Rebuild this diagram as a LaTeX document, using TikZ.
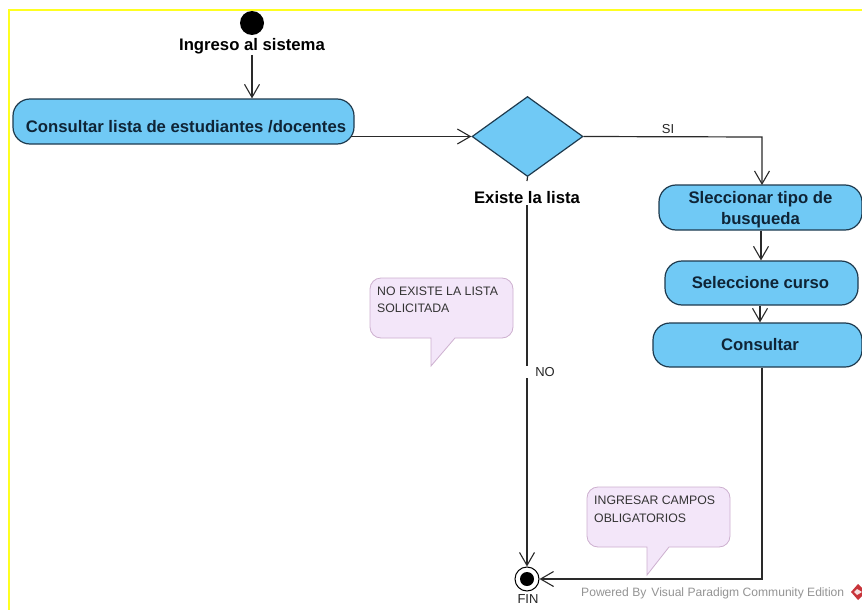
\documentclass[tikz,border=0pt]{standalone}
\usepackage{fontspec}
\setmainfont{Liberation Sans}
\usetikzlibrary{arrows.meta,shapes.geometric}
\definecolor{actfill}{HTML}{70C9F5}
\definecolor{actline}{HTML}{1E3A4E}
\definecolor{acttext}{HTML}{0F2436}
\definecolor{notefill}{HTML}{F3E6F9}
\definecolor{noteline}{HTML}{CDB0CF}
\definecolor{flow}{HTML}{2A2A2A}
\definecolor{frameyellow}{HTML}{FFFF20}
\definecolor{logored}{HTML}{C8343A}
\tikzset{
  act/.style={draw=actline,fill=actfill,line width=1.2pt,rounded corners=17pt,inner sep=0pt,align=center,text=acttext,font=\fontsize{16.7}{21}\selectfont\bfseries},
  decision/.style={diamond,aspect=1.39,draw=actline,fill=actfill,line width=1.2pt,inner sep=0pt,minimum width=111pt,minimum height=80pt},
  caption/.style={inner sep=0pt,text=black,font=\fontsize{16.7}{19}\selectfont\bfseries},
  small/.style={inner sep=0pt,text=black!85,font=\fontsize{13}{14}\selectfont},
  notetext/.style={inner sep=0pt,anchor=north west,align=left,text=black!80,font=\fontsize{12.3}{17.5}\selectfont},
  notebody/.style={draw=noteline,fill=notefill,line width=.8pt},
  flowline/.style={draw=flow,line width=1.2pt},
  arrow/.style={flowline,-{Straight Barb[length=13pt,width=15pt,line width=1.1pt]}}
}
\begin{document}
\begin{tikzpicture}[x=1pt,y=-1pt]
\useasboundingbox (0,0) rectangle (862,610);
\fill[white] (0,0) rectangle (862,610);
\draw[frameyellow,line width=2pt] (9,610) -- (9,10) -- (862,10);

% notes
\draw[notebody] (431,366) -- (431,338) [rounded corners=11pt] -- (370,338) -- (370,278) -- (513,278) -- (513,338) [sharp corners] -- (455,338) -- cycle;
\node[notetext] (n1) at (377,286.5) {NO EXISTE LA LISTA\\SOLICITADA};
\draw[notebody] (647,575) -- (647,547) [rounded corners=11pt] -- (587,547) -- (587,487) -- (730,487) -- (730,547) [sharp corners] -- (669,547) -- cycle;
\node[notetext] (n2) at (594,496) {INGRESAR CAMPOS\\OBLIGATORIOS};

% nodes
\node[circle,fill=black,inner sep=0pt,minimum size=24pt] (start) at (252,23) {};
\node[caption] (lstart) at (252,46.5) {Ingreso al sistema};
\node[act,minimum width=341pt,minimum height=45pt] (c0) at (183.5,121.5) {\hspace*{5pt}\raisebox{-6.5pt}[8pt][0pt]{Consultar lista de estudiantes /docentes}};
\node[decision] (d) at (527.5,136.5) {};
\node[caption] (ld) at (527,197.5) {Existe la lista};
\node[act,minimum width=203pt,minimum height=45pt] (c1) at (760.5,207.5) {\rule{0pt}{16.5pt}Sleccionar tipo de\\busqueda};
\node[act,minimum width=193pt,minimum height=44pt] (c2) at (761.5,283) {Seleccione curso\hspace*{2pt}};
\node[act,minimum width=209pt,minimum height=44pt] (c3) at (757.5,345) {\hspace*{5pt}Consultar};
\node[circle,draw=black,line width=1pt,fill=white,inner sep=0pt,minimum size=24pt] (fin) at (527,579) {};
\fill[black] (fin.center) circle (7pt);
\node[small] (lfin) at (528,599) {FIN};
\node[small] (lsi) at (668,129) {SI};
\node[small] (lno) at (545,372) {NO};
\node[inner sep=0pt,anchor=west,text=black!42,font=\fontsize{12.1}{14}\selectfont] (pow) at (581,593) {Powered By\hspace{5pt}Visual Paradigm Community Edition};
\fill[logored] (858,584) -- (866,592) -- (858,600) -- (851,592) -- cycle;
\fill[white!85!logored] (857,589) -- (862,592) -- (857,595) -- (854,592) -- cycle;

% connectors
\coordinate (top0) at (c0.north -| start);
\coordinate (g0) at (252,55);
\draw[arrow] (g0) -- (top0);
\draw[arrow] ([xshift=-4pt]c0.south east |- d.west) -- (d.west);
\draw[arrow] (d.east) -- (762,137) -- (762,185);
\draw[arrow] (c1.south -| 761,0) -- (c2.north -| 761,0);
\draw[arrow] (c2.south -| 760,0) -- (c3.north -| 760,0);
\coordinate (g1) at (527,181);
\coordinate (g2) at (527,205);
\coordinate (g3) at (527,366);
\coordinate (g4) at (527,378);
\draw[flowline] (d.south) -- (g1);
\draw[flowline] (g2) -- (g3);
\draw[arrow] (g4) -- (fin.north);
\draw[arrow] (c3.south -| 762,0) -- (762,579) -- (fin.east);
\end{tikzpicture}
\end{document}
